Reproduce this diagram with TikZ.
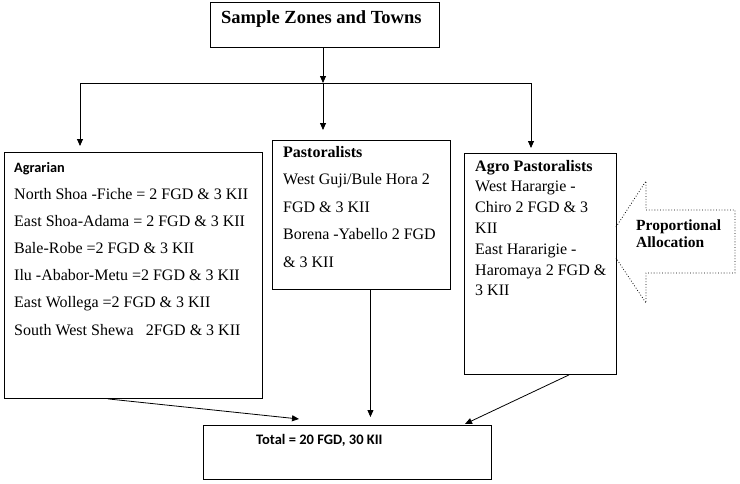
\documentclass[tikz,border=0pt]{standalone}
\usepackage{fontspec}
\setmainfont{Liberation Serif}
\newfontfamily\calib{Carlito}
\usetikzlibrary{arrows.meta,calc}
\begin{document}
\begin{tikzpicture}[x=1pt,y=-1pt,
  box/.style={draw, line width=0.9pt, inner sep=0pt, anchor=north west},
  txt/.style={anchor=base west, inner sep=0pt, font=\fontsize{16}{16}\selectfont},
  btxt/.style={anchor=base west, inner sep=0pt, font=\fontsize{16}{16}\selectfont\bfseries},
  arr/.style={line width=0.8pt, -{Triangle[length=7pt,width=6pt]}},
  ln/.style={line width=0.8pt}]
\useasboundingbox (0,0) rectangle (740,483);
\fill[white] (0,0) rectangle (740,483);
% boxes
\node[box, minimum width=229pt, minimum height=45.5pt] (top) at (210,1.5) {};
\node[box, minimum width=258pt, minimum height=246pt] (agr) at (4,152) {};
\node[box, minimum width=178pt, minimum height=149pt] (pas) at (272,140) {};
\node[box, minimum width=152pt, minimum height=221pt] (agro) at (464,153) {};
\node[box, minimum width=288pt, minimum height=54pt] (tot) at (203,425) {};
% title
\node[anchor=base west, inner sep=0pt, font=\fontsize{18.5}{18.5}\selectfont\bfseries] (ttl) at (221,23) {Sample Zones and Towns};
% agrarian
\node[anchor=base west, inner sep=0pt, font=\fontsize{14.3}{14.3}\selectfont\calib\bfseries] (agrh) at (14,172) {Agrarian};
\node[txt] (a1) at (14,199) {North Shoa -Fiche = 2 FGD \& 3 KII};
\node[txt] (a2) at (14,226.2) {East Shoa-Adama = 2 FGD \& 3 KII};
\node[txt] (a3) at (14,253.4) {Bale-Robe =2 FGD \& 3 KII};
\node[txt] (a4) at (14,280.6) {Ilu -Ababor-Metu =2 FGD \& 3 KII};
\node[txt] (a5) at (14,307.8) {East Wollega =2 FGD \& 3 KII};
\node[txt] (a6) at (14,335) {South West Shewa\hspace{8pt} 2FGD \& 3 KII};
% pastoralists
\node[btxt] (ph) at (283,157) {Pastoralists};
\node[txt] (p1) at (283,184.5) {West Guji/Bule Hora 2};
\node[txt] (p2) at (283,212) {FGD \& 3 KII};
\node[txt] (p3) at (283,239.5) {Borena -Yabello 2 FGD};
\node[txt] (p4) at (283,267) {\& 3 KII};
% agro pastoralists
\node[btxt] (gh) at (475,171) {Agro Pastoralists};
\node[txt] (g1) at (475,191.8) {West Harargie -};
\node[txt] (g2) at (475,212.6) {Chiro 2 FGD \& 3};
\node[txt] (g3) at (475,233.4) {KII};
\node[txt] (g4) at (475,254.2) {East Hararigie -};
\node[txt] (g5) at (475,275) {Haromaya 2 FGD \&};
\node[txt] (g6) at (475,295.8) {3 KII};
% total
\node[anchor=base west, inner sep=0pt, font=\fontsize{14.5}{14.5}\selectfont\calib\bfseries] (tt) at (256,444) {Total = 20 FGD, 30 KII};
% block arrow
\draw[dotted, line width=0.8pt] (616,227) -- (646,181) -- (646,210) -- (735,210) -- (735,273) -- (646,273) -- (646,303) -- (616,258);
\node[anchor=base west, inner sep=0pt, font=\fontsize{15.5}{15.5}\selectfont\bfseries] (pa1) at (636,230) {Proportional};
\node[anchor=base west, inner sep=0pt, font=\fontsize{15.5}{15.5}\selectfont\bfseries] (pa2) at (636,247) {Allocation};
% connectors
\coordinate (j) at (323,83);
\coordinate (hl) at (80,83);
\coordinate (hr) at (531,83);
\draw[arr] (top.south -| j) -- (j);
\draw[ln] (hl) -- (hr);
\draw[arr, shorten >=6pt] (hl) -- (hl |- agr.north);
\draw[arr, shorten >=10pt] (j) -- (j |- pas.north);
\draw[arr, shorten >=5pt] (hr) -- (hr |- agro.north);
\coordinate (ms) at ($(pas.south)+(9,0)$);
\draw[arr, shorten >=8pt] (ms) -- (ms |- tot.north);
\draw[arr] ($(agr.south west)+(104,0)$) -- ($(tot.north west)+(96,-6)$);
\draw[arr] ($(agro.south west)+(105,0)$) -- ($(tot.north west)+(262,-1)$);
\end{tikzpicture}
\end{document}
